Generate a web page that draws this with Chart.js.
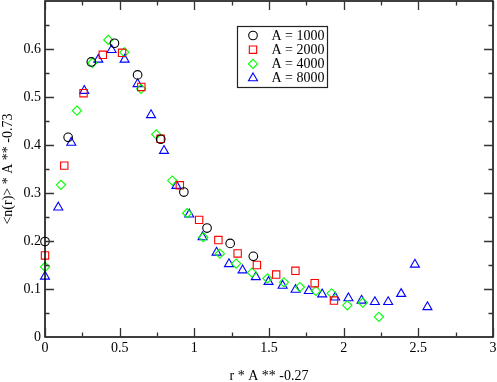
<!DOCTYPE html>
<html><head><meta charset="utf-8">
<script src="https://cdn.jsdelivr.net/npm/chart.js@4.4.1/dist/chart.umd.min.js"></script>
<style>html,body{margin:0;padding:0;background:#fff}#wrap{width:497px;height:382px;position:relative}</style>
</head><body><div id="wrap"><canvas id="c" width="497" height="382"></canvas></div>
<script>
const seriesNames = ['A = 1000', 'A = 2000', 'A = 4000', 'A = 8000'];

const x1000 = [0, 0.155, 0.31, 0.465, 0.62, 0.775, 0.93, 1.085, 1.24, 1.395];
const y1000 = [0.199, 0.416, 0.573, 0.612, 0.546, 0.412, 0.302, 0.227, 0.195, 0.168];

const x2000 = [0, 0.129, 0.258, 0.387, 0.516, 0.645, 0.774, 0.903, 1.032, 1.161, 1.29, 1.419, 1.548, 1.677, 1.806, 1.935];
const y2000 = [0.170, 0.357, 0.508, 0.588, 0.592, 0.521, 0.413, 0.316, 0.244, 0.202, 0.174, 0.150, 0.130, 0.138, 0.112, 0.076];

const x4000 = [0, 0.107, 0.214, 0.317, 0.424, 0.531, 0.643, 0.745, 0.852, 0.952, 1.06, 1.171, 1.28, 1.386, 1.49, 1.6, 1.707, 1.814, 1.919, 2.024, 2.128, 2.236];
const y4000 = [0.146, 0.317, 0.4715, 0.571, 0.619, 0.593, 0.517, 0.422, 0.326, 0.258, 0.208, 0.1735, 0.153, 0.134, 0.122, 0.114, 0.104, 0.096, 0.091, 0.066, 0.0715, 0.042];

const x8000 = [0, 0.089, 0.176, 0.263, 0.357, 0.446, 0.533, 0.62, 0.71, 0.797, 0.88, 0.966, 1.055, 1.149, 1.232, 1.323, 1.412, 1.497, 1.591, 1.678, 1.767, 1.856, 1.943, 2.032, 2.12, 2.209, 2.298, 2.385, 2.477, 2.561];
const y8000 = [0.126, 0.27, 0.405, 0.513, 0.578, 0.598, 0.578, 0.527, 0.4625, 0.388, 0.315, 0.2555, 0.208, 0.176, 0.152, 0.139, 0.125, 0.115, 0.107, 0.0985, 0.096, 0.089, 0.0825, 0.081, 0.076, 0.073, 0.073, 0.090, 0.151, 0.0625];

const xTickLabels = [0, 0.5, 1, 1.5, 2, 2.5, 3];
const xMinorTicks = [0.25, 0.75, 1.25, 1.75, 2.25, 2.75];
const yTickLabels = [0, 0.1, 0.2, 0.3, 0.4, 0.5, 0.6];
const yMajorTicks = [0.1, 0.2, 0.3, 0.4, 0.5, 0.6];
const yMinorTicks = [0.05, 0.15, 0.25, 0.35, 0.45, 0.55, 0.65];

const xTitle = 'r * A ** -0.27';
const yTitle = '<n(r)> * A ** -0.73';

const FONT = "Liberation Serif, Times New Roman, Times, serif";

function pts(xs, ys) { return xs.map((x, i) => ({ x: x, y: ys[i] })); }

const styles = [
  { color: '#000000', pointStyle: 'circle', radius: 4.3 },
  { color: '#ff0000', pointStyle: 'rect', radius: 5.2 },
  { color: '#00ff00', pointStyle: 'rectRot', radius: 4.6 },
  { color: '#0000ff', pointStyle: 'triangle', radius: 5.2 }
];
const allX = [x1000, x2000, x4000, x8000];
const allY = [y1000, y2000, y4000, y8000];

const datasets = seriesNames.map((name, i) => ({
  label: name,
  data: pts(allX[i], allY[i]),
  showLine: false,
  pointStyle: styles[i].pointStyle,
  pointRadius: styles[i].radius,
  pointHoverRadius: styles[i].radius,
  pointBorderColor: styles[i].color,
  pointBackgroundColor: 'rgba(0,0,0,0)',
  pointBorderWidth: 1.1,
  borderColor: styles[i].color,
  backgroundColor: 'rgba(0,0,0,0)'
}));

const frameTicks = {
  id: 'frameTicks',
  afterDatasetsDraw(chart) {
    const { ctx, chartArea: a, scales } = chart;
    const xs = scales.x, ys = scales.y;
    ctx.save();
    ctx.strokeStyle = '#000';
    ctx.lineWidth = 1.5;
    ctx.strokeRect(a.left, a.top, a.right - a.left, a.bottom - a.top);
    ctx.lineWidth = 1.3;
    ctx.strokeStyle = '#333';
    const tick = (vals, len, isX) => {
      vals.forEach(v => {
        ctx.beginPath();
        if (isX) {
          const p = Math.round(xs.getPixelForValue(v)) + 0.5;
          ctx.moveTo(p, a.bottom); ctx.lineTo(p, a.bottom - len);
          ctx.moveTo(p, a.top); ctx.lineTo(p, a.top + len);
        } else {
          const p = Math.round(ys.getPixelForValue(v)) + 0.5;
          ctx.moveTo(a.left, p); ctx.lineTo(a.left + len, p);
          ctx.moveTo(a.right, p); ctx.lineTo(a.right - len, p);
        }
        ctx.stroke();
      });
    };
    tick(xTickLabels, 9, true);
    tick(xMinorTicks, 4.5, true);
    tick(yMajorTicks, 9, false);
    tick(yMinorTicks, 4.5, false);
    ctx.restore();
  }
};

const boxLegend = {
  id: 'boxLegend',
  afterDraw(chart) {
    const ctx = chart.ctx;
    const bx = 237.5, by = 26.5, bw = 90, bh = 61;
    ctx.save();
    ctx.fillStyle = '#fff';
    ctx.fillRect(bx, by, bw, bh);
    ctx.strokeStyle = '#222';
    ctx.lineWidth = 1.2;
    ctx.strokeRect(bx, by, bw, bh);
    ctx.font = '14px ' + FONT;
    ctx.textBaseline = 'middle';
    ctx.textAlign = 'left';
    seriesNames.forEach((name, i) => {
      const y = by + 9 + i * 14.2;
      ctx.strokeStyle = styles[i].color;
      ctx.lineWidth = 1.1;
      ctx.fillStyle = 'rgba(0,0,0,0)';
      if (Chart.helpers && Chart.helpers.drawPoint) {
        Chart.helpers.drawPoint(ctx, { pointStyle: styles[i].pointStyle, radius: styles[i].radius, rotation: 0, borderWidth: 1.1 }, 253, y);
      }
      ctx.fillStyle = '#000';
      ctx.fillText(name, 271.5, y + 0.5);
    });
    ctx.restore();
  }
};

new Chart(document.getElementById('c'), {
  type: 'scatter',
  data: { datasets: datasets },
  options: {
    responsive: false,
    devicePixelRatio: 1,
    animation: false,
    clip: false,
    layout: { autoPadding: false, padding: { left: 0, top: 1, right: 4, bottom: 0 } },
    plugins: { legend: { display: false }, tooltip: { enabled: false } },
    scales: {
      x: {
        type: 'linear', min: 0, max: 3,
        afterBuildTicks: s => { s.ticks = xTickLabels.map(v => ({ value: v })); },
        afterFit: s => { s.height = 45; s.paddingLeft = 0; s.paddingRight = 0; },
        grid: { display: false, drawTicks: false },
        border: { display: false },
        ticks: { font: { family: FONT, size: 14 }, color: '#000', padding: 3, maxRotation: 0, autoSkip: false, callback: v => String(v) },
        title: { display: true, text: xTitle, font: { family: FONT, size: 14, lineHeight: 1 }, color: '#000', padding: { top: 0, bottom: -1 } }
      },
      y: {
        type: 'linear', min: 0, max: 0.7,
        afterBuildTicks: s => { s.ticks = yTickLabels.map(v => ({ value: v })); },
        afterFit: s => { s.width = 45; s.paddingTop = 0; s.paddingBottom = 0; },
        grid: { display: false, drawTicks: false },
        border: { display: false },
        ticks: { font: { family: FONT, size: 14 }, color: '#000', padding: 4, autoSkip: false, callback: v => String(v) },
        title: { display: true, text: yTitle, font: { family: FONT, size: 14, lineHeight: 1 }, color: '#000', padding: { top: 1, bottom: 0 } }
      }
    }
  },
  plugins: [frameTicks, boxLegend]
});
</script></body></html>
